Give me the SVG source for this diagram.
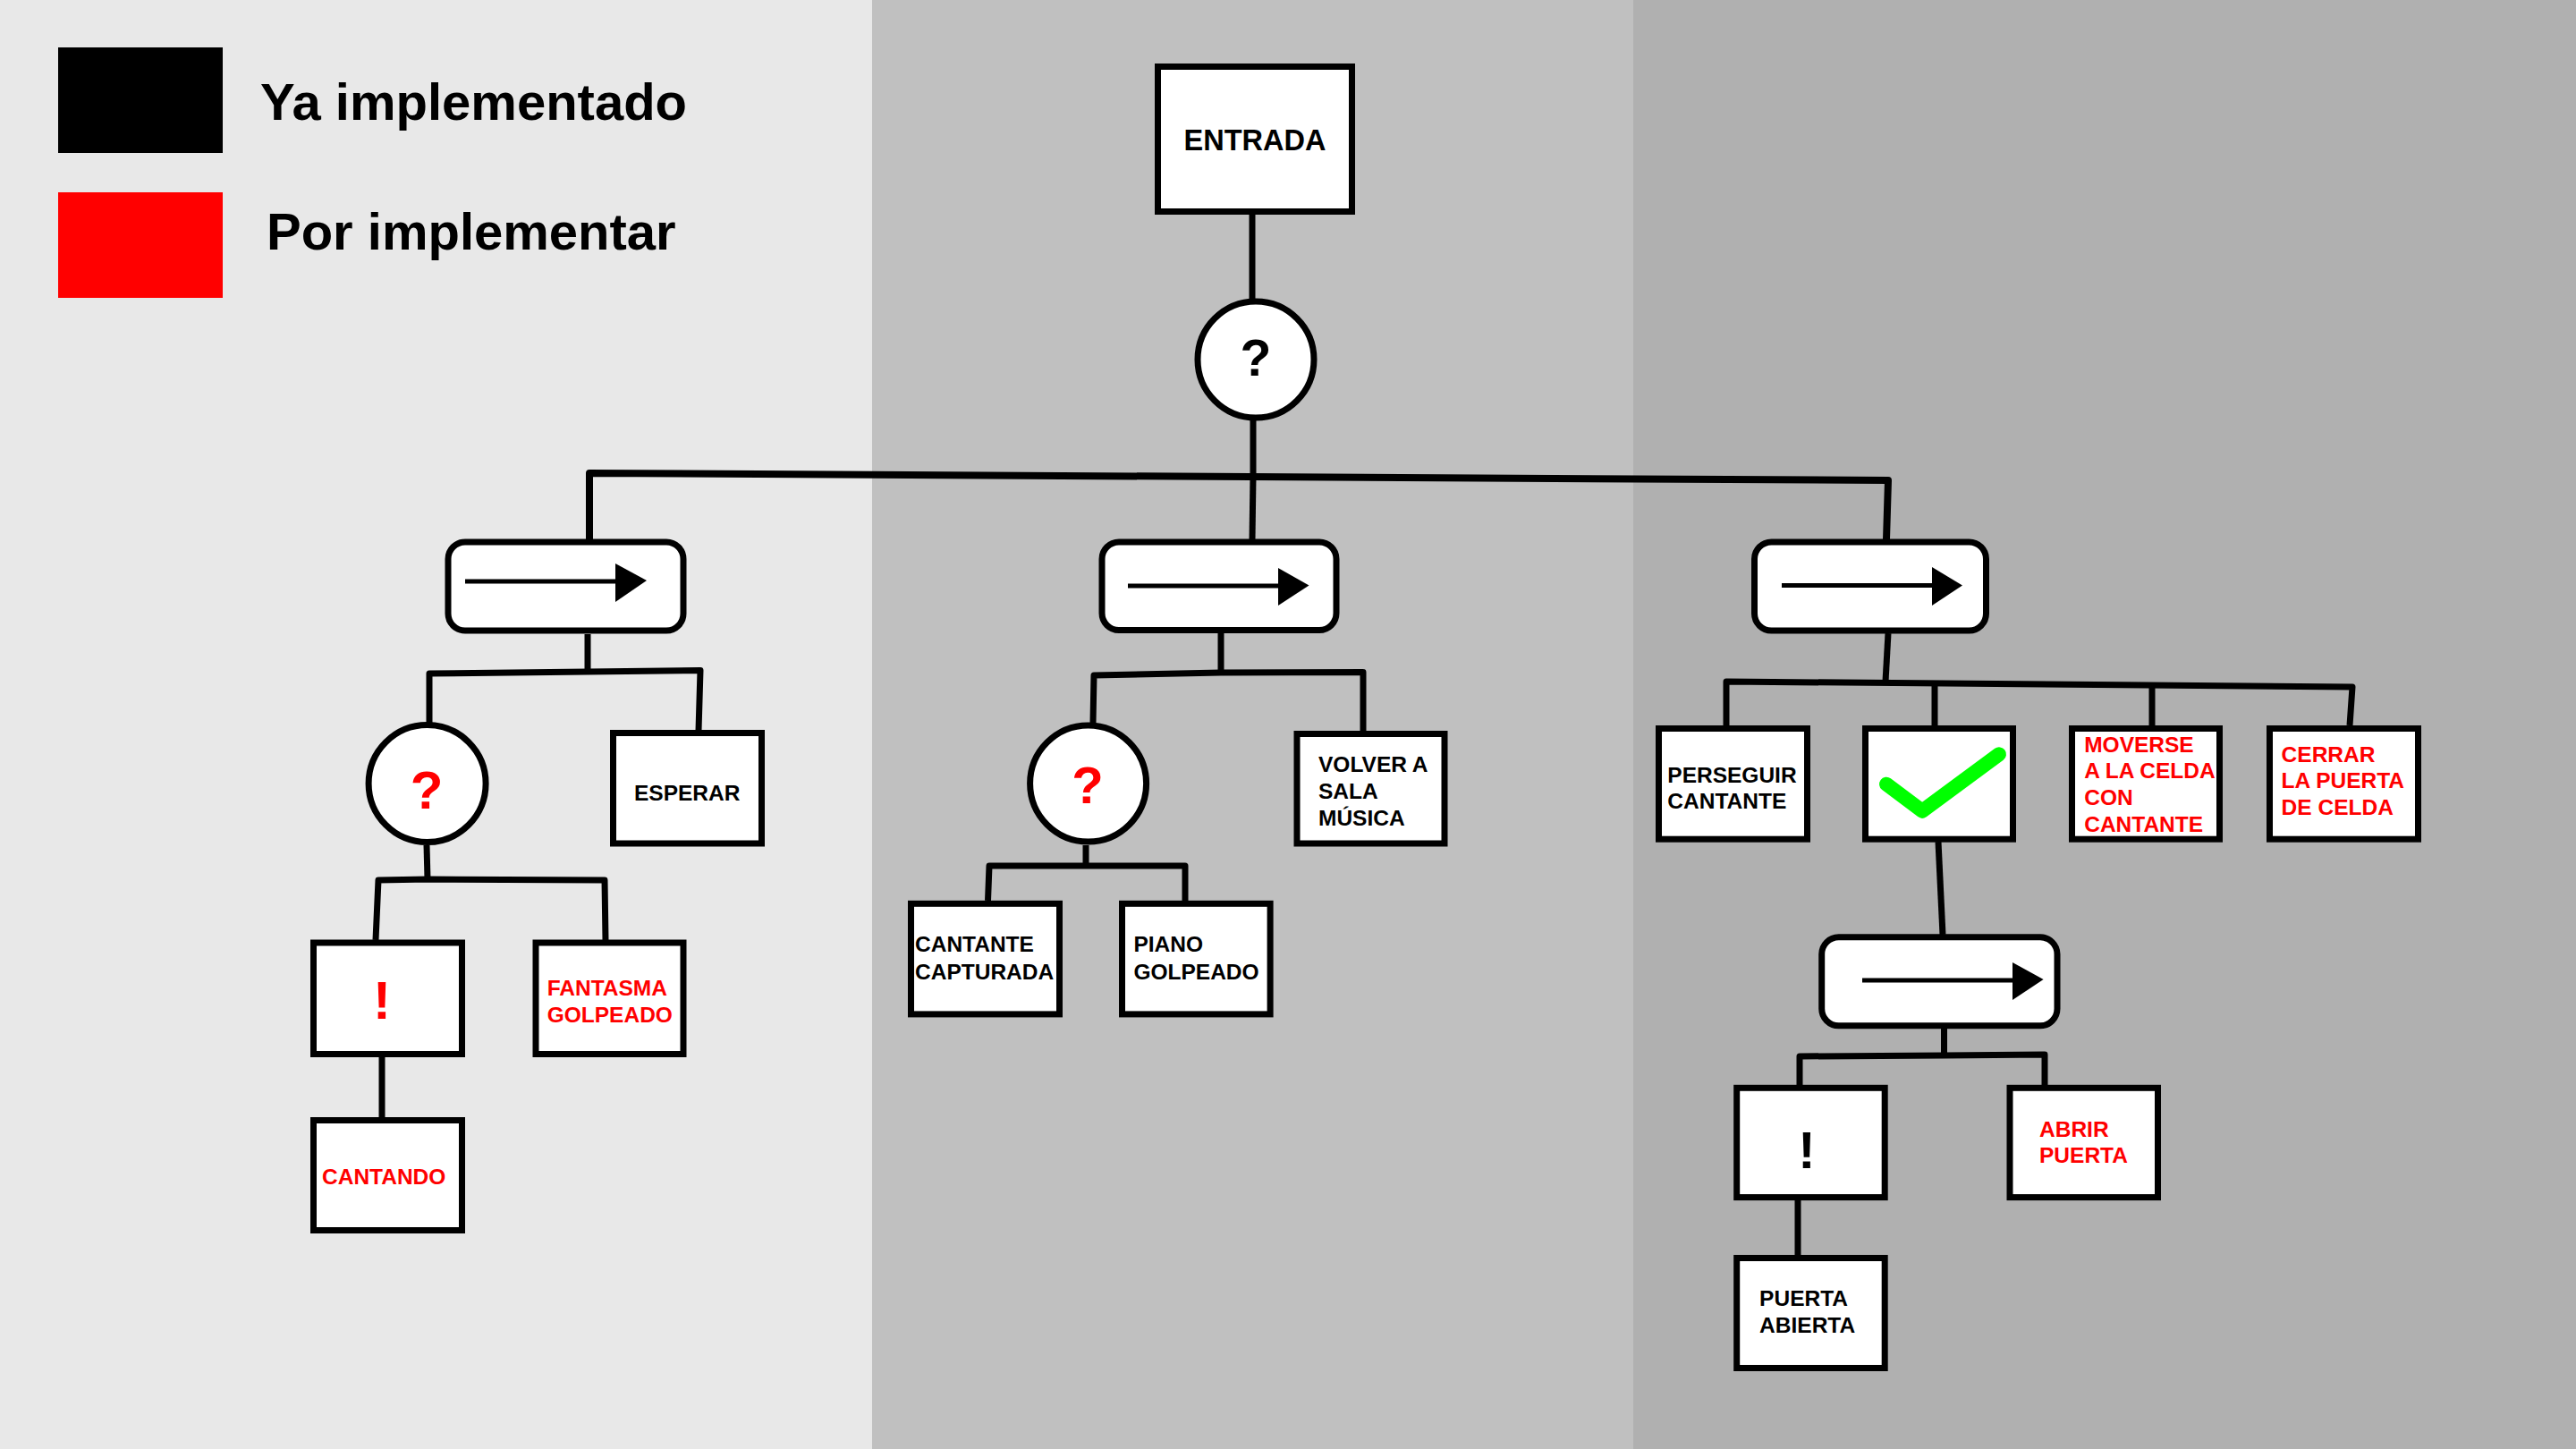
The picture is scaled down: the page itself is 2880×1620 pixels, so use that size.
<svg xmlns="http://www.w3.org/2000/svg" width="2880" height="1620" viewBox="0 0 2880 1620">
<style>
  .box { fill: #ffffff; stroke: #000000; stroke-width: 7; }
  .seq { fill: #ffffff; stroke: #000000; stroke-width: 7; }
  .conn { fill: none; stroke: #000000; stroke-width: 7; stroke-linejoin: round; stroke-linecap: butt; }
  .arl { stroke: #000000; stroke-width: 5; }
  .arh { fill: #000000; }
  .t { font-family: "Liberation Sans", Arial, sans-serif; font-weight: bold; font-size: 24.5px; fill: #000000; }
  .r { fill: #ff0000; }
  .sym { font-family: "Liberation Sans", Arial, sans-serif; font-weight: bold; text-anchor: middle; }
  .leg { font-family: "Liberation Sans", Arial, sans-serif; font-weight: bold; font-size: 58px; fill: #000000; }
</style>

<g id="background">
  <rect x="0" y="0" width="975" height="1620" fill="#e8e8e8"/>
  <rect x="975" y="0" width="851" height="1620" fill="#c0c0c0"/>
  <rect x="1826" y="0" width="1054" height="1620" fill="#b0b0b0"/>
</g>

<g id="legend">
  <rect x="65" y="53" width="184" height="118" fill="#000000"/>
  <text class="leg" x="291" y="134">Ya implementado</text>
  <rect x="65" y="215" width="184" height="118" fill="#ff0000"/>
  <text class="leg" x="298" y="279">Por implementar</text>
</g>

<g id="connectors">
  <path class="conn" d="M 1400 240 L 1400 334"/>
  <path class="conn" d="M 1401 470 L 1401 533"/>
  <path class="conn" style="stroke-width:8" d="M 659 603 L 659 529 L 2111 537 L 2109 603"/>
  <path class="conn" d="M 1401 533 L 1400 603"/>
  <!-- seq 1 children -->
  <path class="conn" d="M 657 709 L 657 751"/>
  <path class="conn" d="M 480 808 L 480 753 L 657 751 L 783 749.5 L 781 817"/>
  <!-- selector left children -->
  <path class="conn" d="M 477 945 L 478 983"/>
  <path class="conn" d="M 420 1051 L 423 984 L 478 983 L 676 984 L 677 1051"/>
  <path class="conn" d="M 427 1182 L 427 1249"/>
  <!-- seq 2 children -->
  <path class="conn" d="M 1365 708 L 1365 752"/>
  <path class="conn" d="M 1222 808 L 1223 755 L 1365 752 L 1524 751.5 L 1524 817"/>
  <!-- selector middle children -->
  <path class="conn" d="M 1214 945 L 1214 968"/>
  <path class="conn" d="M 1104.5 1007 L 1106 968 L 1214 968 L 1325 968 L 1325 1007"/>
  <!-- seq 3 children -->
  <path class="conn" d="M 2111 708 L 2108 762"/>
  <path class="conn" d="M 1930 811 L 1930 762 L 2630 768 L 2627 811"/>
  <path class="conn" d="M 2163 764 L 2163 811"/>
  <path class="conn" d="M 2406 766 L 2406 811"/>
  <!-- check to seq 4 -->
  <path class="conn" d="M 2167 941 L 2172 1045"/>
  <!-- seq 4 children -->
  <path class="conn" d="M 2173.5 1150 L 2173.5 1180"/>
  <path class="conn" d="M 2012 1213 L 2012 1181 L 2173 1180 L 2286 1179 L 2286 1213"/>
  <path class="conn" d="M 2010 1342 L 2010 1404"/>
</g>

<g id="entrada">
  <rect class="box" x="1294.5" y="74.5" width="217" height="162"/>
  <text class="sym" x="1403" y="168" font-size="32.5">ENTRADA</text>
</g>

<g id="selector-root">
  <circle class="box" cx="1404" cy="402" r="65"/>
  <text class="sym" x="1404" y="420" font-size="57">?</text>
</g>

<g id="sequence-1">
  <rect class="seq" x="501" y="606" width="263" height="99" rx="19"/>
  <line class="arl" x1="520" y1="650" x2="690" y2="650"/>
  <polygon class="arh" points="688,630 723,649 688,673"/>
</g>

<g id="sequence-2">
  <rect class="seq" x="1232" y="606" width="262" height="98.5" rx="19"/>
  <line class="arl" x1="1261" y1="655" x2="1431" y2="655"/>
  <polygon class="arh" points="1429,635 1463.5,654.5 1429,677"/>
</g>

<g id="sequence-3">
  <rect class="seq" x="1961.5" y="606" width="259" height="99" rx="19"/>
  <line class="arl" x1="1992" y1="654.5" x2="2162" y2="654.5"/>
  <polygon class="arh" points="2160,634 2194,654.5 2160,677"/>
</g>

<g id="selector-left">
  <circle class="box" cx="477.6" cy="876" r="65.5"/>
  <text class="sym r" x="477" y="904" font-size="60">?</text>
</g>

<g id="esperar">
  <rect class="box" x="685.5" y="819.5" width="166" height="123.5"/>
  <text class="t" x="709" y="895">ESPERAR</text>
</g>

<g id="condition-left">
  <rect class="box" x="350.5" y="1054" width="166" height="124.5"/>
  <text class="sym r" x="427" y="1139" font-size="60">!</text>
</g>

<g id="cantando">
  <rect class="box" x="350.5" y="1252.5" width="166" height="123"/>
  <text class="t r" x="360" y="1324">CANTANDO</text>
</g>

<g id="fantasma-golpeado">
  <rect class="box" x="599" y="1054" width="165" height="124.5"/>
  <text class="t r" x="611.7" y="1113.3">FANTASMA</text>
  <text class="t r" x="611.7" y="1142.7">GOLPEADO</text>
</g>

<g id="selector-middle">
  <circle class="box" cx="1216.6" cy="876" r="65"/>
  <text class="sym r" x="1216" y="898" font-size="58">?</text>
</g>

<g id="volver-sala-musica">
  <rect class="box" x="1450" y="820.5" width="165" height="122.5"/>
  <text class="t" x="1474" y="862.6">VOLVER A</text>
  <text class="t" x="1474" y="892.8">SALA</text>
  <text class="t" x="1474" y="922.7">MÚSICA</text>
</g>

<g id="cantante-capturada">
  <rect class="box" x="1018.5" y="1010.3" width="166" height="123.6"/>
  <text class="t" x="1023" y="1064.4">CANTANTE</text>
  <text class="t" x="1023" y="1094.7">CAPTURADA</text>
</g>

<g id="piano-golpeado">
  <rect class="box" x="1254.5" y="1010.3" width="165.6" height="123.6"/>
  <text class="t" x="1267.4" y="1064.4">PIANO</text>
  <text class="t" x="1267.4" y="1094.7">GOLPEADO</text>
</g>

<g id="perseguir-cantante">
  <rect class="box" x="1854.5" y="814.5" width="166" height="123.7"/>
  <text class="t" x="1864.3" y="875">PERSEGUIR</text>
  <text class="t" x="1864.3" y="904.3">CANTANTE</text>
</g>

<g id="check">
  <rect class="box" x="2085.5" y="814.5" width="165" height="123.7"/>
  <polyline points="2109,876.7 2149,906.7 2235,843.3" fill="none" stroke="#00ff00" stroke-width="16" stroke-linecap="round" stroke-linejoin="round"/>
</g>

<g id="moverse-celda">
  <rect class="box" x="2316.5" y="814.5" width="165" height="123.7"/>
  <text class="t r" x="2330.2" y="840.7">MOVERSE</text>
  <text class="t r" x="2330.2" y="870">A LA CELDA</text>
  <text class="t r" x="2330.2" y="900">CON</text>
  <text class="t r" x="2330.2" y="930">CANTANTE</text>
</g>

<g id="cerrar-puerta">
  <rect class="box" x="2537.5" y="814.5" width="166" height="123.7"/>
  <text class="t r" x="2550.6" y="851.7">CERRAR</text>
  <text class="t r" x="2550.6" y="881">LA PUERTA</text>
  <text class="t r" x="2550.6" y="911">DE CELDA</text>
</g>

<g id="sequence-4">
  <rect class="seq" x="2036.7" y="1047.8" width="263.3" height="99" rx="19"/>
  <line class="arl" x1="2082" y1="1096" x2="2252" y2="1096"/>
  <polygon class="arh" points="2250,1076 2284.6,1095 2250,1118"/>
</g>

<g id="condition-right">
  <rect class="box" x="1941.7" y="1216.3" width="165.5" height="122.3"/>
  <text class="sym" x="2020" y="1305.7" font-size="58">!</text>
</g>

<g id="puerta-abierta">
  <rect class="box" x="1941.7" y="1406.5" width="165.5" height="123"/>
  <text class="t" x="1967.1" y="1460">PUERTA</text>
  <text class="t" x="1967.1" y="1489.6">ABIERTA</text>
</g>

<g id="abrir-puerta">
  <rect class="box" x="2247" y="1216.3" width="165.5" height="122.3"/>
  <text class="t r" x="2280" y="1270.7">ABRIR</text>
  <text class="t r" x="2280" y="1300.3">PUERTA</text>
</g>
</svg>
